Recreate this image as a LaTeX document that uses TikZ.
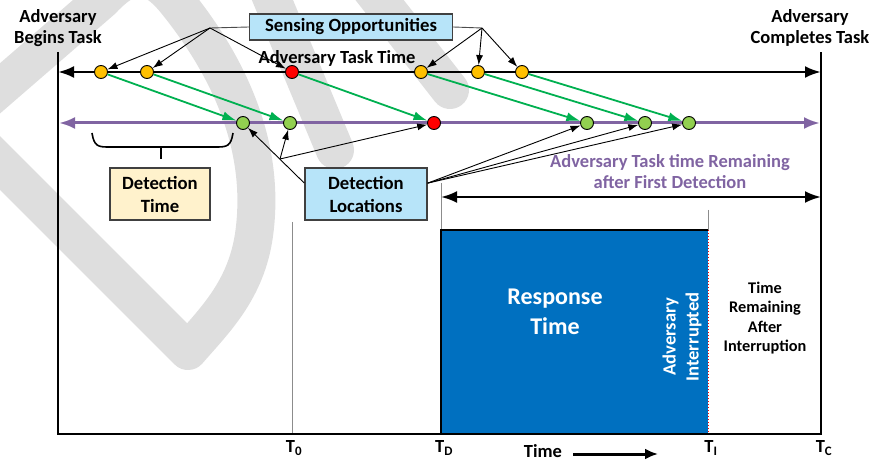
\documentclass[tikz,border=0pt]{standalone}
\usepackage{fontspec}
\setmainfont{Carlito}
\usetikzlibrary{arrows.meta}
\definecolor{skybox}{HTML}{B7E4F9}
\definecolor{creambox}{HTML}{FFF2CC}
\definecolor{respblue}{HTML}{0070C0}
\definecolor{taskpurple}{HTML}{8064A2}
\definecolor{arrowgreen}{HTML}{00B050}
\definecolor{dotorange}{HTML}{FFC000}
\definecolor{dotgreen}{HTML}{92D050}
\definecolor{markgray}{HTML}{DEDEDE}
\tikzset{
  lbl/.style={font=\fontsize{18.5}{21}\selectfont\bfseries,align=center,inner sep=0},
  infobox/.style={draw=black!75,line width=1.3,font=\fontsize{18.7}{23}\selectfont\bfseries,align=center,inner sep=0},
  dot/.style={circle,draw=black,line width=0.9,minimum size=13,inner sep=0},
  frame/.style={line width=2},
  tline/.style={black!45,line width=1},
  callout/.style={->,line width=0.9,>={Latex[length=10pt,width=7pt]}},
  leader/.style={black!70,line width=0.9},
  greenarrow/.style={->,arrowgreen,line width=1.8,>={Latex[length=14pt,width=9pt]}},
  bigarrow/.style={<->,line width=2.8,>={Latex[length=16pt,width=12pt]}}
}
\begin{document}
\begin{tikzpicture}[x=1pt,y=-1pt]
    \useasboundingbox (0,0) rectangle (875,462);
    % watermark
    \begin{scope}
        \clip (0,0) rectangle (875,462);
        \draw[markgray,line width=38,line join=round](188,351)--(-40,123)--(102,0)..controls(130,-30)and(150,-30)..(175,0)..controls(232,70)and(266,150)..(254,235)..controls(246,290)and(215,320)..cycle;
        \draw[markgray,line width=38,line cap=round](262,-25)--(335,150);
        \draw[markgray,line width=38,line cap=round](360,-25)--(450,90);
    \end{scope}
    \node[lbl](begin)at(58,28){Adversary\\Begins Task};
    \node[lbl](complete)at(810,28){Adversary\\Completes Task};
    \coordinate(ltop)at(58,52);
    \coordinate(lbot)at(58,434);
    \coordinate(rtop)at(821,52);
    \coordinate(rbot)at(821,434);
    % response time block
    \fill[respblue](441,230)rectangle(708,434);
    \draw[tline](292,222)--(292,434);
    \draw[tline](441,183)--(441,230);
    \draw[tline](708,210)--(708,230);
    \draw[line width=1.6](441,434)--(441,230)--(708,230);
    \draw[red,dotted,line width=1](708,230)--(708,434);
    \draw[frame](ltop)--(lbot)--(rbot)--(rtop);
    % task lines
    \coordinate(taskL)at(58,72);
    \coordinate(taskR)at(821,72);
    \coordinate(detL)at(59,123);
    \coordinate(detR)at(820,123);
    \draw[bigarrow](taskL)--(taskR);
    \draw[bigarrow,taskpurple,line width=3](detL)--(detR);
    \node[lbl](tasktime)at(337,58){Adversary Task Time};
    \foreach \n/\x/\c in {1/101/dotorange,2/147/dotorange,3/292/red,4/421/dotorange,5/478/dotorange,6/522/dotorange}
        \node[dot,fill=\c](s\n)at(\x,72){};
    \foreach \n/\x/\c in {1/243/dotgreen,2/290/dotgreen,3/434/red,4/587/dotgreen,5/645/dotgreen,6/689/dotgreen}
        \node[dot,fill=\c](d\n)at(\x,123){};
    \foreach \n in {1,...,6}
        \draw[greenarrow](s\n)--(d\n);
    % sensing opportunities
    \node[infobox,fill=skybox,minimum width=203,minimum height=26](sensing)at(351,27){Sensing Opportunities};
    \coordinate(sensL)at(210,28);
    \coordinate(sensR)at(482,28);
    \draw[leader](sensing.west)--(sensL);
    \draw[leader](sensing.east)--(sensR);
    \foreach \n in {1,2,3}
        \draw[callout](sensL)--(s\n);
    \foreach \n in {4,5,6}
        \draw[callout](sensR)--(s\n);
    % detection time
    \draw[line width=1.6](92,133)..controls(94,146)and(98,147)..(108,147)--(217,147)..controls(227,147)and(231,146)..(233,133);
    \draw[line width=2](161,147)--(161,159);
    \node[infobox,fill=creambox,minimum width=100,minimum height=52](dettime)at(160,194){Detection\\Time};
    % detection locations
    \node[infobox,fill=skybox,minimum width=122,minimum height=52](detloc)at(366,194){Detection\\Locations};
    \coordinate(locJ)at(280,159);
    \draw[callout](detloc.170)--(d1);
    \draw[callout](locJ)--(d2);
    \draw[callout](locJ)--(d3);
    \foreach \n in {4,5,6}
        \draw[callout](detloc.10)--(d\n);
    % remaining time
    \coordinate(remL)at(441,197);
    \coordinate(remR)at(821,197);
    \draw[bigarrow,line width=2.5](remL)--(remR);
    \node[lbl,text=taskpurple](remaining)at(670,172){Adversary Task time Remaining\\after First Detection};
    \node[lbl,text=white,font=\fontsize{24}{30}\selectfont\bfseries](response)at(555,312){Response\\Time};
    \node[lbl,text=white,rotate=90,font=\fontsize{18.6}{23}\selectfont\bfseries](interrupt)at(682,337){Adversary\\Interrupted};
    \node[lbl,font=\fontsize{16.3}{19.5}\selectfont\bfseries](after)at(765,318){Time\\Remaining\\After\\Interruption};
    % time axis labels
    \node[lbl](t0)at(294,448){T\textsubscript{0}};
    \node[lbl](tD)at(444,448){T\textsubscript{D}};
    \node[lbl](tI)at(711,448){T\textsubscript{I}};
    \node[lbl](tC)at(824,448){T\textsubscript{C}};
    \node[lbl](timelbl)at(543,451){Time};
    \coordinate(timeS)at(573,454);
    \coordinate(timeE)at(658,454);
    \draw[->,line width=3,>={Latex[length=13pt,width=11pt]}](timeS)--(timeE);
\end{tikzpicture}
\end{document}
